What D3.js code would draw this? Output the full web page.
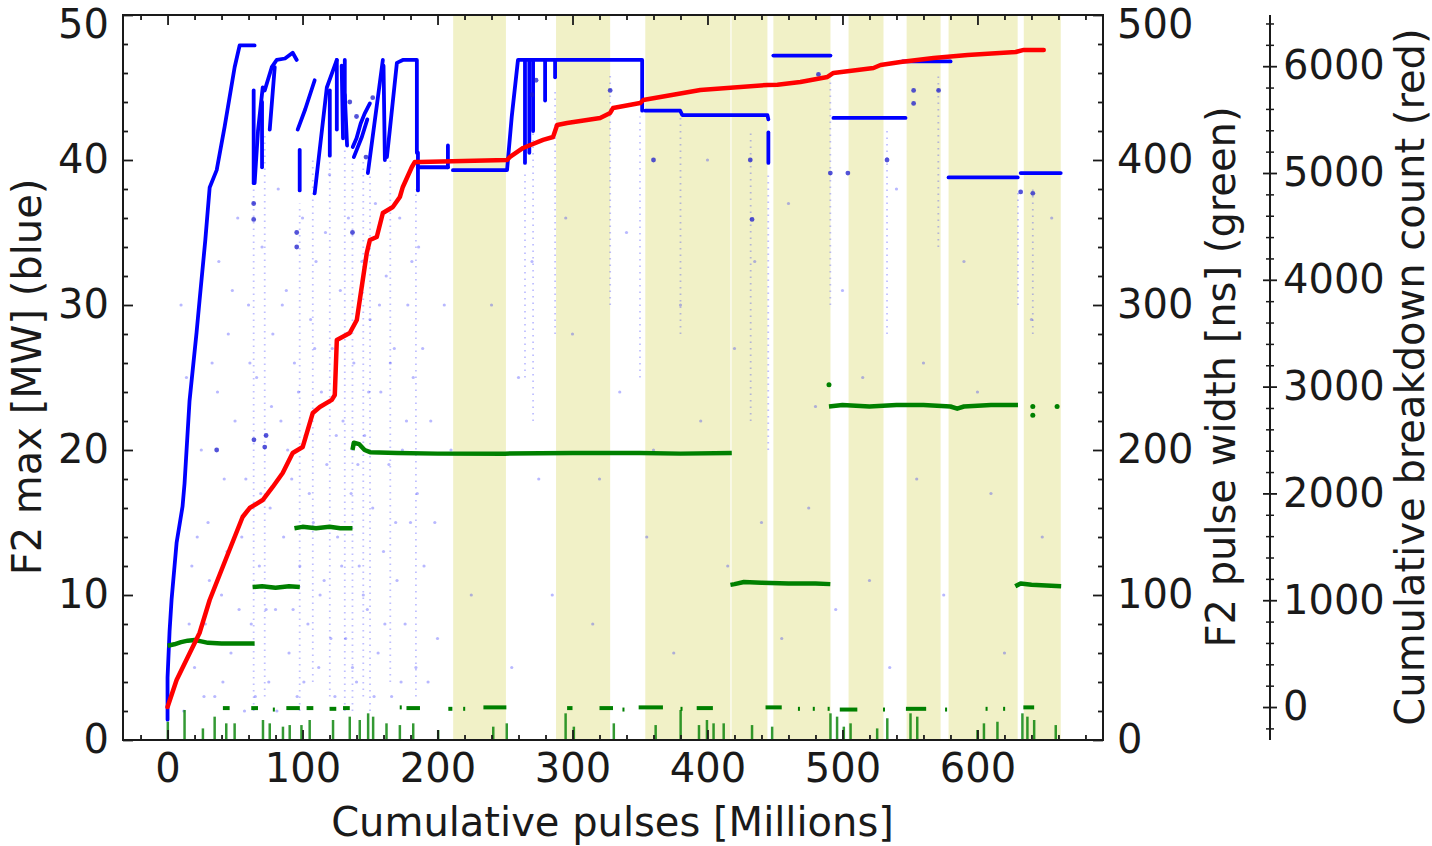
<!DOCTYPE html>
<html><head><meta charset="utf-8">
<script src="https://cdn.jsdelivr.net/npm/d3@7"></script>
<style>
html,body{margin:0;padding:0;background:#fff;}
text{font-family:"DejaVu Sans",sans-serif;fill:#1a1a1a;}
</style></head>
<body><svg id="chart" width="1432" height="846"></svg>
<script>
// ---------------- DATA ----------------
const xTicks = [0,100,200,300,400,500,600];
const blueTicks = [0,10,20,30,40,50];
const greenTicks = [0,100,200,300,400,500];
const redTicks = [0,1000,2000,3000,4000,5000,6000];

// shaded operating periods [start, end] in Millions of pulses
const bands = [[211.6,250.7],[287.8,327.9],[353.9,417.0],[417.8,444.4],[448.8,491.1],[504.5,530.4],[547.5,572.7],[578.6,629.8],[634.3,661.7]];

// F2 max [MW] main traces (blue)
const blueTraces = [
  [[0,1.4],[0,4.3],[1.5,7.5],[3,9.7],[6.7,13.6],[11.1,16.1],[12.6,17.7],[16.3,23.4],[21.5,28.1],[23.7,30.3],[28,34.5],[31.2,38.1],[36.4,39.3],[42.3,42.3],[49.7,46.4],[53.4,47.9],[64.5,47.9]],
  [[63.8,44.8],[63.8,38.4]],
  [[64.5,38.4],[67,42],[70.5,45.0],[72,44.8],[77.2,46.4],[80.9,46.9],[87,47.0],[92.7,47.4],[95.7,46.9]],
  [[75.7,42.1],[79.4,46.4]],
  [[70,44],[70,39.5]],
  [[96.4,42.1],[102,43.5],[109,45.5]],
  [[97.9,40.7],[97.9,37.9]],
  [[109,37.7],[118,45],[125.4,46.9]],
  [[120.2,44.8],[120.2,40.3]],
  [[125.4,46.9],[125.4,42.1]],
  [[129,46.5],[130,41.5]],
  [[131.3,46.9],[131.3,42.8]],
  [[131.3,44.5],[133,41]],
  [[137.2,40.9],[140,41.5],[143,42.5],[146,43.2],[149.9,43.9]],
  [[138,40.2],[144,41.6],[148,42.8]],
  [[148.4,39.1],[159.5,46.9]],
  [[161,40.0],[160,46.5]],
  [[162.5,40.2],[164.7,42.1],[169.9,46.7],[174.3,46.9],[183.2,46.9],[184.7,46.9],[184.7,40.5]],
  [[185.5,39.5],[207.7,39.5]],
  [[185.5,40.5],[185.5,37.9]],
  [[207.7,41],[207.7,39.5]],
  [[211.4,39.3],[251.5,39.3],[255,43],[259.6,46.9],[351.6,46.9],[351.6,43.4]],
  [[264.8,46.9],[264.8,39.8]],
  [[268,46.9],[268,40.5]],
  [[270.8,46.9],[270.8,42]],
  [[279.7,46.9],[279.7,44.1]],
  [[287.1,46.9],[287.1,45.7]],
  [[353.9,43.4],[379.8,43.4],[381.3,43.1],[444.4,43.1],[445.1,42.8]],
  [[445.1,41.9],[445.1,39.8]],
  [[448.8,47.2],[491.1,47.2]],
  [[493.3,42.9],[546.7,42.9]],
  [[544.5,46.8],[580.1,46.8]],
  [[578.6,38.8],[629.8,38.8]],
  [[632,39.1],[661.7,39.1]]
];
// isolated darker blue points
const blueDots = [[63.8,37],[63.8,35.9],[95.7,35],[95.7,34],[137,35],[36.4,20],[64,20.7],[72,20.2],[73,21],[482.2,45.9],[552.7,44.8],[552.7,43.9],[571.2,44.8],[327.9,44.8],[491,39.1],[504,39.1],[533,40.0],[632,37.8],[641,37.7],[360,40],[431.7,40],[433,35.9],[147,40.2],[152,44.3],[270,44.5],[273,45.5],[135,44],[140,43]];
// faint scattered blue points
const blueFaint = [[10,30],[14,25],[18,12],[20,5],[25,20],[28,8],[30,15],[33,26],[35,3],[38,33],[40,10],[42,18],[45,28],[47,6],[50,22],[52,36],[55,14],[57,2],[60,30],[62,8],[66,25],[68,12],[70,34],[75,4],[76,16],[78,28],[80,9],[82,38],[84,22],[86,14],[88,31],[90,6],[92,18],[94,26],[96,3],[98,12],[100,36],[102,21],[104,8],[106,29],[108,15],[110,33],[112,5],[114,24],[116,11],[118,19],[120,39],[122,27],[124,3],[126,14],[128,31],[130,22],[132,7],[134,36],[136,17],[138,26],[140,4],[142,12],[144,33],[146,21],[148,9],[150,29],[152,16],[154,37],[156,6],[158,24],[160,13],[162,32],[164,19],[166,3],[168,27],[170,11],[172,36],[174,20],[176,8],[178,30],[180,15],[182,25],[184,5],[186,34],[190,12],[195,22],[200,7],[205,30],[260,25],[270,33],[285,10],[300,28],[320,18],[340,35],[360,20],[380,30],[400,40],[420,27],[440,15],[460,37],[480,23],[500,31],[520,11],[540,38],[560,26],[590,33],[610,17],[640,29],[655,36],
  [12,2],[16,8],[22,14],[27,3],[31,11],[37,24],[41,4],[44,13],[48,31],[53,9],[58,18],[61,26],[65,3],[69,17],[73,9],[77,23],[81,2],[85,30],[89,20],[93,9],[97,24],[101,4],[105,17],[109,27],[113,10],[117,35],[121,7],[125,21],[129,12],[133,28],[137,5],[141,19],[145,10],[149,24],[153,3],[157,30],[161,8],[165,26],[169,15],[173,4],[177,22],[181,33],[185,17],[189,27],[193,4],[198,15],[210,20],[225,10],[240,30],[255,5],[275,18],[295,36],[315,8],[335,24],[355,14],[375,6],[395,22],[415,12],[435,33],[455,7],[475,16],[495,9],[515,25],[535,5],[555,18],[575,10],[600,24],[620,6],[648,14]];
// faint vertical streaks of blue points [x, yFrom, yTo]
const blueStreaks = [[63.8,2,38],[72,3,42],[97.9,2,37],[107.6,4,40],[120.2,3,40],[131.3,2,41],[137,2,40],[145,3,40],[150,2,39],[165,4,40],[184,3,38],[264.8,25,39],[270.8,22,42],[287.1,28,45],[327.9,30,46],[350,25,43],[380,28,43],[432,22,42],[445,20,39],[491,30,46],[533,28,42],[571,34,46],[630,30,38],[641,28,38]];

// F2 pulse width [ns] (green)
const greenTraces = [
  [[0,65],[5,66],[10,67.5],[15,68.5],[20,69],[25,68],[30,67],[40,66.5],[50,66.5],[64.5,66.5]],
  [[63,105.5],[70,106],[80,105],[90,106],[98,105.5]],
  [[94,146],[100,147],[110,146],[120,147],[128,146],[137,146]],
  [[137,200],[138,205],[142,204],[146,200],[150,198.5],[170,198],[200,197.5],[250,197.5],[300,198],[350,198],[380,197.5],[418,198]],
  [[417,107],[420,107.5],[427,109],[440,108.5],[460,108],[480,108],[491,107.5]],
  [[490,230],[500,231],[520,230],[540,231],[560,231],[580,230],[585,228.5],[590,230],[610,231],[630,231]],
  [[628,106],[632,108],[640,107],[662,106]]
];
// short dashes near 22 ns [xStart, xEnd, value]
const greenDashes = [[41,46,22],[62,67,22],[78,79.5,21],[88,98,22],[103,108,22],[120,125,21.5],[130,135,22],[172,173.5,22.5],[177,187,22],[208,211,21.5],[219,220.5,21.5],[234,251,22.5],[296,300,22],[320,330,22],[337,338.5,21],[349,367,22.5],[380,381.5,21.5],[392,404,22],[443,455,22.5],[467,468.5,21.5],[478,479.5,21.5],[489,490.5,21.5],[498,511,21],[530,531.5,21],[547,562,21.5],[576,577.5,21],[606,607.5,21.5],[619,620.5,21.5],[634,642,22.5]];
// spikes rising from zero [x, value]
const greenSpikes = [[0.2,12.6],[12.6,20.7],[26.2,8.0],[34.9,16.1],[43.5,11.5],[49.7,11.5],[70.7,13.8],[75.7,11.5],[85.5,9.2],[90.5,10.3],[99.2,10.3],[105.3,13.8],[122.6,13.8],[135,16.1],[142.4,13.8],[148.6,18.4],[152.3,16.1],[162.2,11.5],[172.1,10.3],[182,11.5],[200.5,6.9],[241.3,9.2],[251.3,11.5],[294.9,18.4],[301,9.2],[330.6,11.5],[361.6,10.3],[380.1,20.7],[393.7,10.3],[399.6,13.8],[404.5,11.5],[412,11.5],[433,10.3],[447.9,9.2],[491.1,18.4],[496,16.1],[501,9.2],[506,11.5],[525.7,8],[533.2,15],[550.4,18.4],[555.4,16.1],[600,6.9],[604.8,11.5],[614.8,12.6],[633.3,18.4],[637,16.1],[642,13.8],[658,10.3]];
const greenDots = [[641,230],[659,230],[490,245],[641,224]];

// Cumulative breakdown count (red)
const redCurve = [[0,5],[6.7,257],[23.7,698],[31.2,1007],[43.8,1409],[55.6,1784],[60.8,1868],[70.5,1943],[77.9,2065],[85.3,2196],[92.7,2383],[100.1,2439],[107.6,2758],[112.8,2814],[121.7,2880],[123.9,2926],[125.4,3441],[135,3507],[140.2,3628],[142.4,3815],[147.6,4256],[149.9,4377],[155,4405],[159.5,4630],[166.9,4686],[172.1,4780],[174.3,4874],[181,5061],[183.2,5108],[186.9,5108],[251.5,5126],[253.7,5155],[263.4,5239],[278.2,5314],[285.6,5342],[288.6,5454],[296,5473],[320.5,5520],[327.9,5567],[330.1,5614],[350.1,5660],[352.4,5688],[394.7,5782],[444.4,5829],[451.8,5830],[468.8,5857],[488.9,5904],[493.3,5941],[523,5988],[528.2,6016],[543,6044],[567.5,6082],[592.7,6110],[628.3,6138],[634.3,6157],[649.1,6157]];

// ---------------- CHART ----------------
const svg = d3.select("#chart");
const L=123, R=1103, T=15, B=740;
const x = d3.scaleLinear().domain([-33,693]).range([L,R]);
const yB = d3.scaleLinear().domain([0,50]).range([B,T]);
const yG = d3.scaleLinear().domain([0,500]).range([B,T]);
const yR = d3.scaleLinear().domain([-304,6484]).range([B,T]);
const FS = 40;

svg.append("rect").attr("width",1432).attr("height",846).attr("fill","#fff");

// bands
svg.append("g").selectAll("rect").data(bands).join("rect")
  .attr("x",d=>x(d[0])).attr("width",d=>x(d[1])-x(d[0]))
  .attr("y",T).attr("height",B-T)
  .attr("fill","#bfbf00").attr("fill-opacity",0.22);

svg.append("clipPath").attr("id","clip").append("rect").attr("x",L).attr("y",T).attr("width",R-L).attr("height",B-T);
const plot = svg.append("g").attr("clip-path","url(#clip)");

// blue faint
plot.append("g").selectAll("line").data(blueStreaks).join("line")
  .attr("x1",d=>x(d[0])).attr("x2",d=>x(d[0])).attr("y1",d=>yB(d[1])).attr("y2",d=>yB(d[2]))
  .attr("stroke","#0000ff").attr("stroke-opacity",0.25).attr("stroke-width",1.8).attr("stroke-dasharray","1.5,5");
plot.append("g").selectAll("circle").data(blueFaint).join("circle")
  .attr("cx",d=>x(d[0])).attr("cy",d=>yB(d[1])).attr("r",1.6)
  .attr("fill","#0000ff").attr("fill-opacity",0.28);

const lineB = d3.line().x(d=>x(d[0])).y(d=>yB(d[1]));
plot.append("g").selectAll("path").data(blueTraces).join("path")
  .attr("d",lineB).attr("fill","none").attr("stroke","#0000ff").attr("stroke-width",3.8)
  .attr("stroke-linejoin","round").attr("stroke-linecap","round");
plot.append("g").selectAll("circle").data(blueDots).join("circle")
  .attr("cx",d=>x(d[0])).attr("cy",d=>yB(d[1])).attr("r",2.4).attr("fill","#1a1acc").attr("fill-opacity",0.75);

// green
plot.append("g").selectAll("line").data(greenSpikes).join("line")
  .attr("x1",d=>x(d[0])).attr("x2",d=>x(d[0])).attr("y1",yG(0)).attr("y2",d=>yG(d[1]))
  .attr("stroke","#008000").attr("stroke-width",2.5).attr("stroke-opacity",0.8);
plot.append("g").selectAll("line").data(greenDashes).join("line")
  .attr("x1",d=>x(d[0])).attr("x2",d=>x(d[1])).attr("y1",d=>yG(d[2])).attr("y2",d=>yG(d[2]))
  .attr("stroke","#008000").attr("stroke-width",4);
const lineG = d3.line().x(d=>x(d[0])).y(d=>yG(d[1]));
plot.append("g").selectAll("path").data(greenTraces).join("path")
  .attr("d",lineG).attr("fill","none").attr("stroke","#008000").attr("stroke-width",4.5)
  .attr("stroke-linejoin","round");
plot.append("g").selectAll("circle").data(greenDots).join("circle")
  .attr("cx",d=>x(d[0])).attr("cy",d=>yG(d[1])).attr("r",2.5).attr("fill","#008000");

// red
const lineR = d3.line().x(d=>x(d[0])).y(d=>yR(d[1]));
plot.append("path").datum(redCurve).attr("d",lineR).attr("fill","none")
  .attr("stroke","#ff0000").attr("stroke-width",4.5).attr("stroke-linejoin","round").attr("stroke-linecap","round");

// ---------------- AXES ----------------
function range(a,b,s){const r=[];for(let v=a;v<=b+1e-9;v+=s)r.push(+v.toFixed(6));return r;}
function styleAxis(g){g.select(".domain").remove();g.selectAll(".tick line").attr("stroke","#1a1a1a").attr("stroke-width",1.8);
  g.selectAll(".tick text").attr("font-size",FS).attr("font-family","DejaVu Sans").attr("fill","#1a1a1a");}

// bottom
svg.append("g").attr("transform",`translate(0,${B})`)
  .call(d3.axisBottom(x).tickValues(xTicks).tickSize(-10).tickSizeOuter(0).tickPadding(14).tickFormat(d3.format("d"))).call(styleAxis);
svg.append("g").attr("transform",`translate(0,${B})`)
  .call(d3.axisBottom(x).tickValues(range(-20,680,20).filter(v=>v%100!==0)).tickSize(-5).tickSizeOuter(0).tickFormat("")).call(styleAxis);
// top
svg.append("g").attr("transform",`translate(0,${T})`)
  .call(d3.axisTop(x).tickValues(xTicks).tickSize(-10).tickSizeOuter(0).tickFormat("")).call(styleAxis);
svg.append("g").attr("transform",`translate(0,${T})`)
  .call(d3.axisTop(x).tickValues(range(-20,680,20).filter(v=>v%100!==0)).tickSize(-5).tickSizeOuter(0).tickFormat("")).call(styleAxis);
// left (blue)
const gL = svg.append("g").attr("transform",`translate(${L},0)`)
  .call(d3.axisLeft(yB).tickValues(blueTicks).tickSize(-10).tickSizeOuter(0).tickPadding(14)).call(styleAxis);
svg.append("g").attr("transform",`translate(${L},0)`)
  .call(d3.axisLeft(yB).tickValues(range(0,50,2).filter(v=>v%10!==0)).tickSize(-5).tickSizeOuter(0).tickFormat("")).call(styleAxis);
// right (green)
const gG = svg.append("g").attr("transform",`translate(${R},0)`)
  .call(d3.axisRight(yG).tickValues(greenTicks).tickSize(-10).tickSizeOuter(0).tickPadding(14)).call(styleAxis);
svg.append("g").attr("transform",`translate(${R},0)`)
  .call(d3.axisRight(yG).tickValues(range(0,500,20).filter(v=>v%100!==0)).tickSize(-5).tickSizeOuter(0).tickFormat("")).call(styleAxis);
// keep the top labels inside the page
gL.selectAll(".tick text").filter(d=>d===50).attr("dy","0.55em");
gG.selectAll(".tick text").filter(d=>d===500).attr("dy","0.55em");

// frame
svg.append("rect").attr("x",L).attr("y",T).attr("width",R-L).attr("height",B-T)
  .attr("fill","none").attr("stroke","#1a1a1a").attr("stroke-width",2);

// red offset spine
const RX = 1270;
const gR = svg.append("g").attr("transform",`translate(${RX},0)`);
gR.append("line").attr("y1",T).attr("y2",B).attr("stroke","#1a1a1a").attr("stroke-width",2);
gR.selectAll("line.maj").data(redTicks).join("line").attr("class","maj")
  .attr("x1",-7).attr("x2",7).attr("y1",d=>yR(d)).attr("y2",d=>yR(d)).attr("stroke","#1a1a1a").attr("stroke-width",1.8);
gR.selectAll("line.min").data(range(-200,6400,200).filter(v=>v%1000!==0)).join("line").attr("class","min")
  .attr("x1",-4).attr("x2",4).attr("y1",d=>yR(d)).attr("y2",d=>yR(d)).attr("stroke","#1a1a1a").attr("stroke-width",1.5);
gR.selectAll("text").data(redTicks).join("text")
  .attr("x",13).attr("y",d=>yR(d)).attr("dy","0.32em").attr("font-size",FS).text(d=>d);

// titles
svg.append("text").attr("transform",`translate(${27},${377}) rotate(-90)`).attr("text-anchor","middle").attr("dy","0.35em")
  .attr("font-size",FS).text("F2 max [MW] (blue)");
svg.append("text").attr("transform",`translate(${1221},${377}) rotate(-90)`).attr("text-anchor","middle").attr("dy","0.35em")
  .attr("font-size",FS).text("F2 pulse width [ns] (green)");
svg.append("text").attr("transform",`translate(${1410},${377}) rotate(-90)`).attr("text-anchor","middle").attr("dy","0.35em")
  .attr("font-size",FS).text("Cumulative breakdown count (red)");
svg.append("text").attr("x",x(300)+40).attr("y",836).attr("text-anchor","middle")
  .attr("font-size",FS).text("Cumulative pulses [Millions]");
</script></body></html>
